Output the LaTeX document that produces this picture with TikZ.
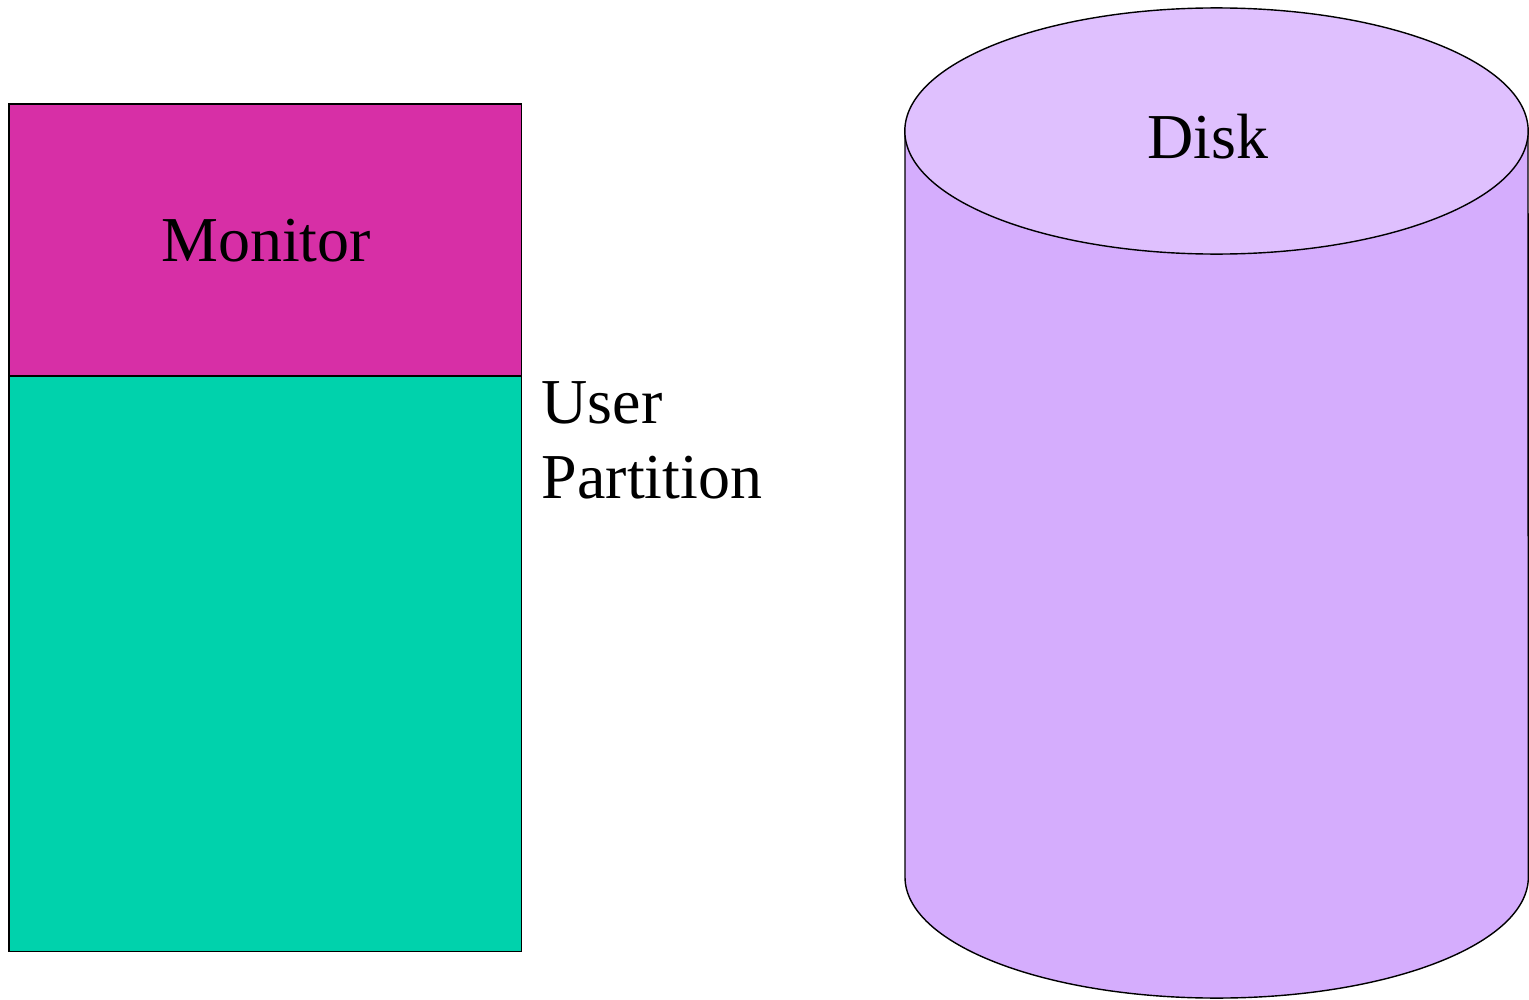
\documentclass[tikz,border=0pt]{standalone}
\usepackage{fontspec}
\setmainfont{Liberation Serif}
\definecolor{monitorfill}{RGB}{215,47,166}
\definecolor{userfill}{RGB}{0,210,172}
\definecolor{diskbody}{RGB}{213,173,253}
\definecolor{disktop}{RGB}{223,192,254}
\begin{document}
\begin{tikzpicture}[x=0.01cm,y=-0.01cm,
  block/.style={draw=black, line width=0.4pt, inner sep=0pt, outer sep=0pt, anchor=north west},
  lbl/.style={font=\fontsize{18.2}{21.2}\selectfont, inner sep=0pt}]
\useasboundingbox (0,0) rectangle (1529,1000);
% memory layout
\node[block, fill=monitorfill, minimum width=5.12cm, minimum height=2.72cm] (monitor) at (9,104) {};
\node[block, fill=userfill, minimum width=5.12cm, minimum height=5.75cm] (user) at (9,376) {};
\node[lbl] (monitortext) at (266,241) {Monitor};
\node[lbl, anchor=base west, align=left] (usertext) at (541,498) {User\\Partition};
% disk cylinder
\draw[fill=diskbody, line width=0.4pt] (905,131) -- (905,877)
  arc[start angle=180, end angle=360, x radius=3.115cm, y radius=1.21cm]
  -- (1528,131) -- cycle;
\draw[fill=disktop, line width=0.4pt] (1216.5,131) ellipse [x radius=3.115cm, y radius=1.23cm];
\node[lbl] (disktext) at (1208,137) {Disk};
\end{tikzpicture}
\end{document}
